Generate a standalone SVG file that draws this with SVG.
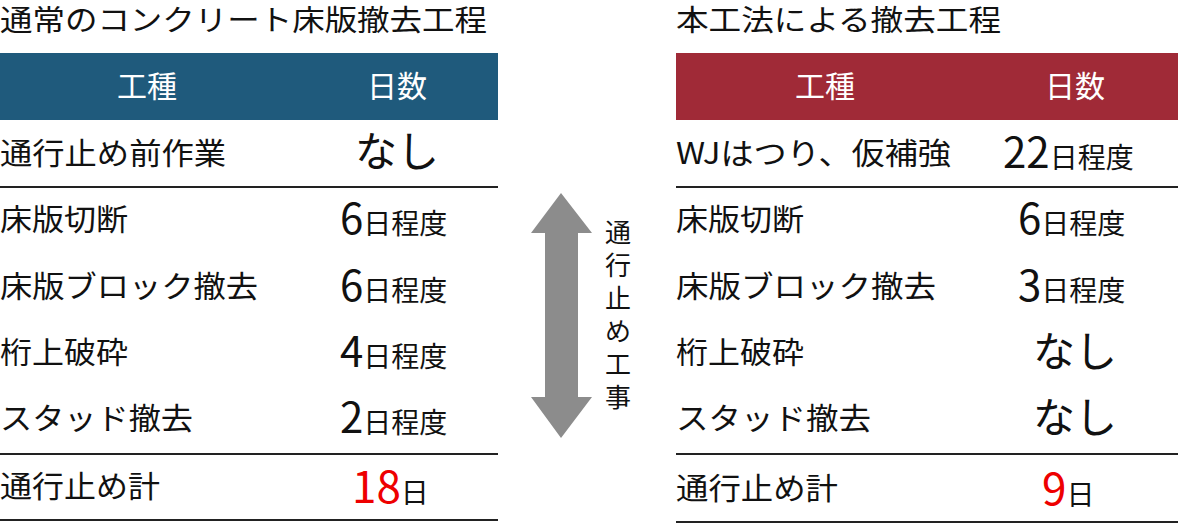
<svg xmlns="http://www.w3.org/2000/svg" width="1178" height="527" viewBox="0 0 1178 527">
<style>
text{font-family:"Noto Sans CJK JP","Noto Sans",sans-serif;fill:#111}
.t{font-size:29px}
.h{font-size:30px;fill:#fff;text-anchor:middle}
.r{font-size:30px}
.n{font-size:42px}
.s{font-size:28px}
.red{fill:#e00;font-size:44px}
.v{font-size:26px;text-anchor:middle}
line{stroke:#222;stroke-width:2}
</style>
<rect width="1178" height="527" fill="#fff"/>
<g id="left-table">
<text class="t" x="0" y="31" textLength="487" lengthAdjust="spacingAndGlyphs">通常のコンクリート床版撤去工程</text>
<rect x="0" y="53" width="498" height="67" fill="#1f5a7c"/>
<text class="h" x="147" y="97">工種</text>
<text class="h" x="397" y="97">日数</text>
<text class="r" x="0" y="164" textLength="226" lengthAdjust="spacingAndGlyphs">通行止め前作業</text>
<text class="n" x="397" y="167" text-anchor="middle">なし</text>
<line x1="0" y1="187" x2="498" y2="187"/>
<text class="r" x="0" y="230" textLength="128" lengthAdjust="spacingAndGlyphs">床版切断</text>
<text x="340" y="234"><tspan class="n">6</tspan><tspan class="s">日程度</tspan></text>
<text class="r" x="0" y="297" textLength="258" lengthAdjust="spacingAndGlyphs">床版ブロック撤去</text>
<text x="340" y="301"><tspan class="n">6</tspan><tspan class="s">日程度</tspan></text>
<text class="r" x="0" y="363" textLength="128" lengthAdjust="spacingAndGlyphs">桁上破砕</text>
<text x="340" y="367"><tspan class="n">4</tspan><tspan class="s">日程度</tspan></text>
<text class="r" x="0" y="429" textLength="193" lengthAdjust="spacingAndGlyphs">スタッド撤去</text>
<text x="340" y="433"><tspan class="n">2</tspan><tspan class="s">日程度</tspan></text>
<line x1="0" y1="454" x2="498" y2="454"/>
<text class="r" x="0" y="497" textLength="160" lengthAdjust="spacingAndGlyphs">通行止め計</text>
<text x="352" y="503"><tspan class="red">18</tspan><tspan class="s">日</tspan></text>
<line x1="0" y1="520" x2="498" y2="520"/>
</g>
<g id="arrow">
<polygon points="561,193 592,233 578,233 578,397 592,397 561,438 531,397 545,397 545,233 531,233" fill="#8c8c8c"/>
<text class="v" x="618" y="242">通</text>
<text class="v" x="618" y="275">行</text>
<text class="v" x="618" y="308">止</text>
<text class="v" x="618" y="341">め</text>
<text class="v" x="618" y="374">工</text>
<text class="v" x="618" y="407">事</text>
</g>
<g id="right-table">
<text class="t" x="676" y="31" textLength="325" lengthAdjust="spacingAndGlyphs">本工法による撤去工程</text>
<rect x="676" y="53" width="502" height="67" fill="#a02a37"/>
<text class="h" x="825" y="97">工種</text>
<text class="h" x="1075" y="97">日数</text>
<text class="r" x="676" y="164" textLength="275" lengthAdjust="spacingAndGlyphs">WJはつり、仮補強</text>
<text x="1003" y="168"><tspan class="n">22</tspan><tspan class="s">日程度</tspan></text>
<line x1="676" y1="187" x2="1178" y2="187"/>
<text class="r" x="676" y="230" textLength="128" lengthAdjust="spacingAndGlyphs">床版切断</text>
<text x="1018" y="234"><tspan class="n">6</tspan><tspan class="s">日程度</tspan></text>
<text class="r" x="676" y="297" textLength="260" lengthAdjust="spacingAndGlyphs">床版ブロック撤去</text>
<text x="1018" y="301"><tspan class="n">3</tspan><tspan class="s">日程度</tspan></text>
<text class="r" x="676" y="363" textLength="128" lengthAdjust="spacingAndGlyphs">桁上破砕</text>
<text class="n" x="1075" y="367" text-anchor="middle">なし</text>
<text class="r" x="676" y="429" textLength="195" lengthAdjust="spacingAndGlyphs">スタッド撤去</text>
<text class="n" x="1075" y="433" text-anchor="middle">なし</text>
<line x1="676" y1="454" x2="1178" y2="454"/>
<text class="r" x="676" y="499" textLength="162" lengthAdjust="spacingAndGlyphs">通行止め計</text>
<text x="1042" y="505"><tspan class="red">9</tspan><tspan class="s">日</tspan></text>
<line x1="676" y1="522" x2="1178" y2="522"/>
</g>
</svg>
